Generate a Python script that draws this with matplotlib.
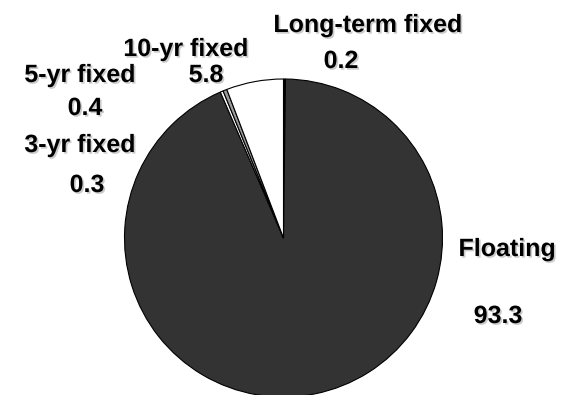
import matplotlib
matplotlib.use("Agg")
import matplotlib.pyplot as plt
import matplotlib.patheffects as pe

# share of loans by interest-rate type (%)
labels = ["Long-term fixed", "Floating", "3-yr fixed", "5-yr fixed", "10-yr fixed"]
values = [0.2, 93.3, 0.3, 0.4, 5.8]
colors = ["#000000", "#333333", "#ffffff", "#9a9a9a", "#ffffff"]

# label anchors in pixels from the top-left corner (x centre, text baseline)
name_xy = [(368, 32), (507, 256), (80, 152), (80, 82), (186, 56)]
value_xy = [(341, 68), (498, 323), (87, 192), (85, 115), (206, 82)]

W, H = 562, 395
fig = plt.figure(figsize=(W / 100, H / 100), dpi=100)
fig.patch.set_facecolor("white")

cx, cy, r = 283.5, 238, 159
ax = fig.add_axes([(cx - r) / W, 1 - (cy + r) / H, 2 * r / W, 2 * r / H])
ax.pie(values, colors=colors, startangle=90, counterclock=False, radius=1,
       wedgeprops=dict(edgecolor="black", linewidth=0.8))
ax.set_xlim(-1, 1)
ax.set_ylim(-1, 1)
ax.set_aspect("equal")
ax.axis("off")

shadow = [pe.withSimplePatchShadow(offset=(1.2, -1.2), shadow_rgbFace="0.6", alpha=0.5)]
font = dict(family="Liberation Sans", weight="bold", fontsize=18,
            ha="center", va="baseline", path_effects=shadow)
for name, val, (nx, ny), (vx, vy) in zip(labels, values, name_xy, value_xy):
    fig.text(nx / W, 1 - ny / H, name, **font)
    fig.text(vx / W, 1 - vy / H, f"{val:.1f}", **font)

fig.savefig("out.png", dpi=100)
